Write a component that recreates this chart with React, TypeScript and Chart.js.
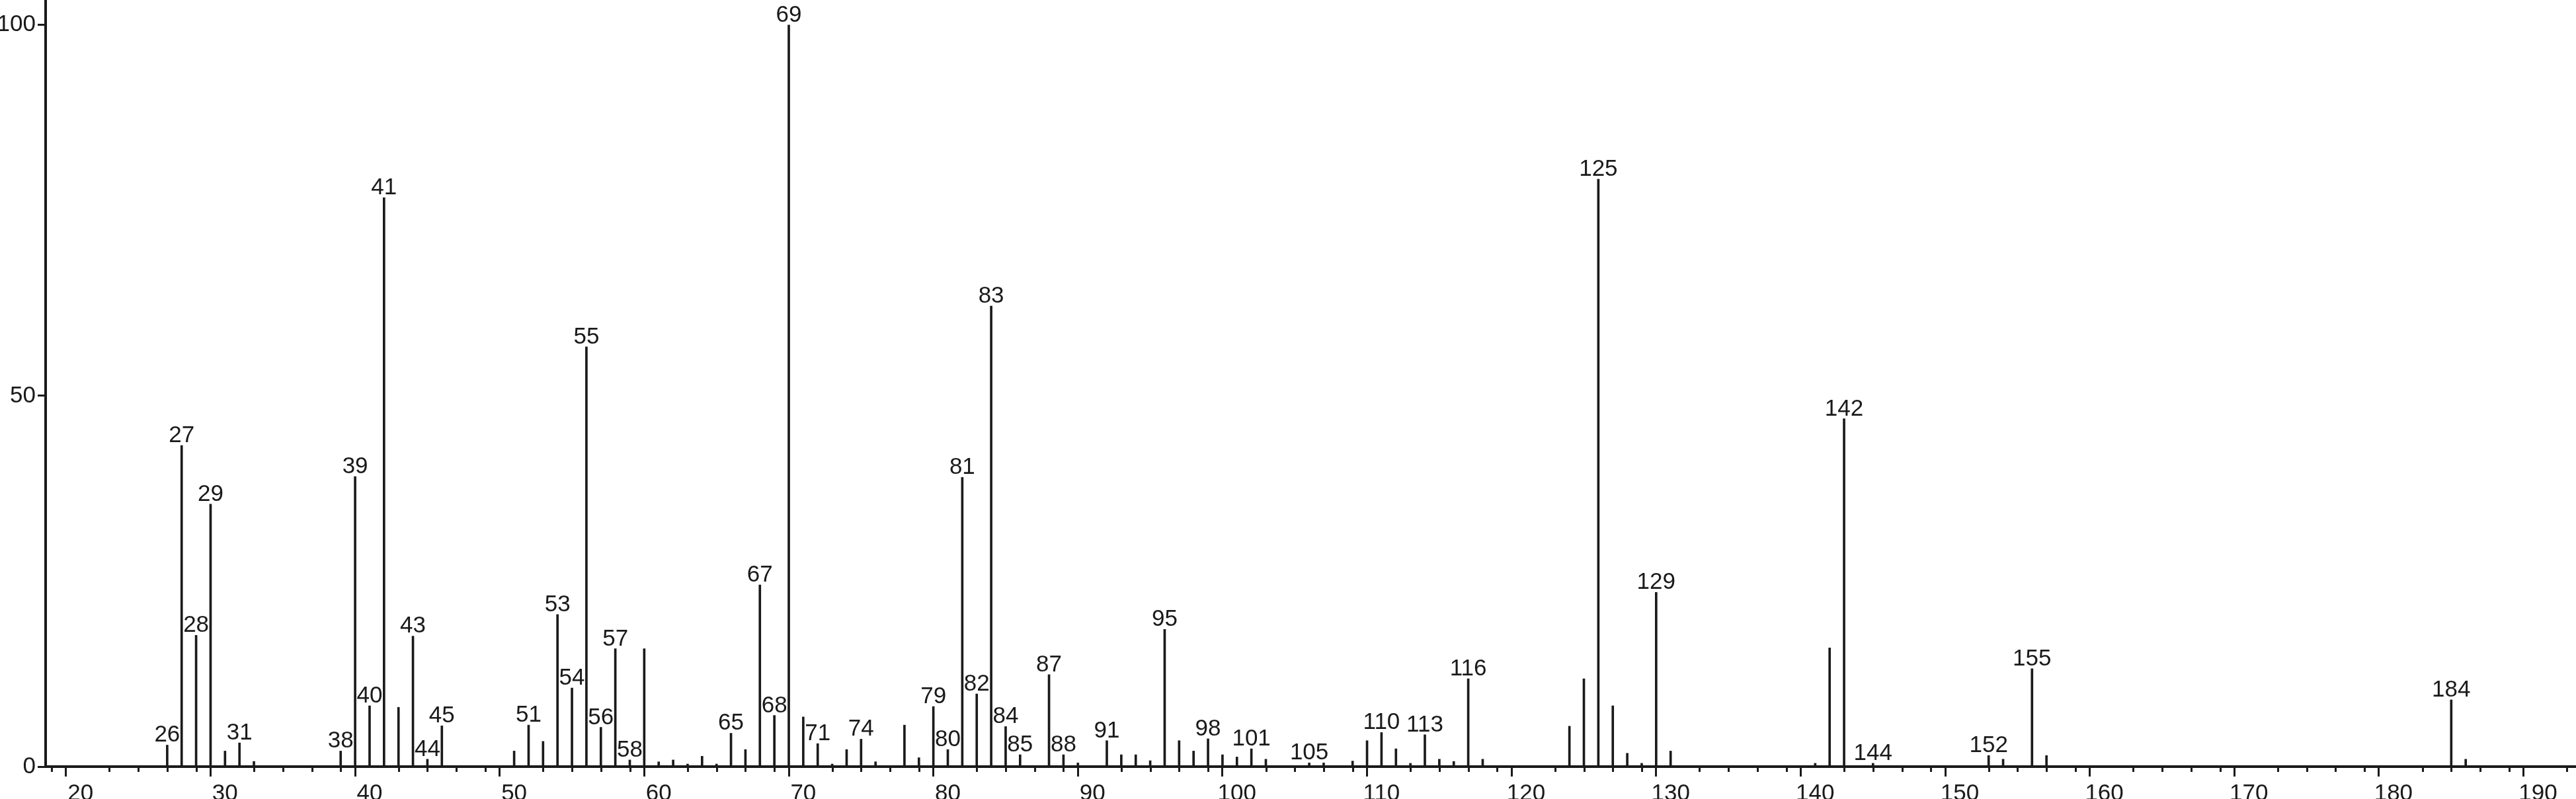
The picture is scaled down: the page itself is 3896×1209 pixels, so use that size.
import React, { useEffect, useRef } from "react";
import { Chart, registerables } from "chart.js";

Chart.register(...registerables);

// m/z values of the peaks
const mzValues: number[] = [
  26, 27, 28, 29, 30, 31, 32, 38, 39, 40, 41, 42, 43, 44, 45,
  50, 51, 52, 53, 54, 55, 56, 57, 58, 59, 60, 61, 62, 63, 64, 65, 66, 67, 68, 69,
  70, 71, 72, 73, 74, 75, 77, 78, 79, 80, 81, 82, 83, 84, 85, 87, 88, 89,
  91, 92, 93, 94, 95, 96, 97, 98, 99, 100, 101, 102, 105, 106, 108, 109, 110,
  111, 112, 113, 114, 115, 116, 117, 123, 124, 125, 126, 127, 128, 129, 130,
  140, 141, 142, 144, 152, 153, 155, 156, 184, 185,
];

// relative intensities (%)
const intensities: number[] = [
  2.9, 43.3, 17.7, 35.4, 2.1, 3.2, 0.7, 2.1, 39.1, 8.2, 76.7, 8.0, 17.6, 1.0, 5.5,
  2.1, 5.6, 3.4, 20.5, 10.6, 56.6, 5.3, 15.9, 0.9, 15.9, 0.65, 0.9, 0.35, 1.4, 0.35, 4.5, 2.3, 24.5, 6.9, 100,
  6.7, 3.1, 0.35, 2.3, 3.7, 0.65, 5.6, 1.2, 8.1, 2.3, 39.0, 9.8, 62.1, 5.4, 1.6, 12.4, 1.6, 0.5,
  3.5, 1.6, 1.6, 0.8, 18.5, 3.5, 2.1, 3.75, 1.6, 1.3, 2.4, 1.0, 0.5, 0.5, 0.75, 3.5, 4.6,
  2.4, 0.45, 4.3, 1.0, 0.7, 11.85, 1.0, 5.45, 11.85, 79.2, 8.2, 1.8, 0.45, 23.5, 2.1,
  0.45, 16.0, 46.9, 0.45, 1.5, 1.0, 13.2, 1.5, 9.0, 1.0,
];

// peaks that carry an m/z annotation
const labeledPeaks: number[] = [
  26, 27, 28, 29, 31, 38, 39, 40, 41, 43, 44, 45, 51, 53, 54, 55, 56, 57, 58,
  65, 67, 68, 69, 71, 74, 79, 80, 81, 82, 83, 84, 85, 87, 88, 91, 95, 98, 101,
  105, 110, 113, 116, 125, 129, 142, 144, 152, 155, 184,
];

const xTickLabels: number[] = [20, 30, 40, 50, 60, 70, 80, 90, 100, 110, 120, 130, 140, 150, 160, 170, 180, 190];
const yTickLabels: number[] = [0, 50, 100];

const INK = "#1a1a1a";
const FONT_FAMILY = "'Liberation Sans', Arial, Helvetica, sans-serif";
const FONT_SIZE = 35;

export default function App() {
  const canvasRef = useRef<HTMLCanvasElement | null>(null);

  useEffect(() => {
    document.body.style.margin = "0";
    const canvas = canvasRef.current;
    if (!canvas) return;

    const peakLabelPlugin = {
      id: "peakLabels",
      afterDatasetsDraw(chart: any) {
        const ctx = chart.ctx;
        const meta = chart.getDatasetMeta(0);
        ctx.save();
        ctx.fillStyle = INK;
        ctx.font = `${FONT_SIZE}px ${FONT_FAMILY}`;
        ctx.textAlign = "center";
        ctx.textBaseline = "alphabetic";
        meta.data.forEach((bar: any, i: number) => {
          const m = mzValues[i];
          if (labeledPeaks.includes(m)) {
            ctx.fillText(String(m), bar.x, bar.y - 5);
          }
        });
        ctx.restore();
      },
    };

    const minorTickPlugin = {
      id: "minorTicks",
      afterDraw(chart: any) {
        const ctx = chart.ctx;
        const xs = chart.scales.x;
        ctx.save();
        ctx.strokeStyle = INK;
        ctx.lineWidth = 3;
        xs.ticks.forEach((t: any) => {
          if (xTickLabels.includes(t.value)) return;
          const px = Math.round(xs.getPixelForValue(t.value)) + 0.5;
          ctx.beginPath();
          ctx.moveTo(px, xs.top);
          ctx.lineTo(px, xs.top + 8);
          ctx.stroke();
        });
        ctx.restore();
      },
    };

    const chart = new Chart(canvas, {
      type: "bar",
      data: {
        datasets: [
          {
            data: mzValues.map((m, i) => ({ x: m, y: intensities[i] })),
            backgroundColor: INK,
            borderWidth: 0,
            barThickness: 3,
          },
        ],
      },
      options: {
        animation: false,
        responsive: false,
        devicePixelRatio: 1,
        layout: { padding: 0 },
        plugins: {
          legend: { display: false },
          tooltip: { enabled: false },
          title: { display: false },
        },
        scales: {
          x: {
            type: "linear",
            offset: false,
            min: 17.59,
            max: 192.63,
            grid: {
              display: true,
              drawOnChartArea: false,
              drawTicks: true,
              tickLength: 15,
              tickWidth: 3,
              tickColor: (c: any) => (xTickLabels.includes(c.tick?.value) ? INK : "rgba(0,0,0,0)"),
            },
            border: { display: true, color: INK, width: 4 },
            ticks: {
              stepSize: 2,
              includeBounds: false,
              autoSkip: false,
              maxRotation: 0,
              minRotation: 0,
              padding: 5,
              color: INK,
              font: { family: FONT_FAMILY, size: FONT_SIZE },
              callback: (v: any) => (xTickLabels.includes(Number(v)) ? String(v) : ""),
            },
            afterFit: (s: any) => {
              s.height = 49;
              s.paddingLeft = 0;
              s.paddingRight = 0;
            },
          },
          y: {
            type: "linear",
            min: 0,
            max: 103.36,
            grid: {
              display: true,
              drawOnChartArea: false,
              drawTicks: true,
              tickLength: 12,
              tickWidth: 3,
              tickColor: INK,
            },
            border: { display: true, color: INK, width: 4 },
            ticks: {
              stepSize: 50,
              includeBounds: false,
              padding: 3,
              color: INK,
              font: { family: FONT_FAMILY, size: FONT_SIZE },
              callback: (v: any) => (yTickLabels.includes(Number(v)) ? String(v) : ""),
            },
            afterFit: (s: any) => {
              s.width = 69;
              s.paddingTop = 0;
              s.paddingBottom = 0;
            },
          },
        },
      },
      plugins: [peakLabelPlugin, minorTickPlugin],
    } as any);

    return () => {
      chart.destroy();
    };
  }, []);

  return (
    <canvas
      ref={canvasRef}
      width={3896}
      height={1209}
      style={{ display: "block", width: "3896px", height: "1209px", background: "#ffffff" }}
    />
  );
}
